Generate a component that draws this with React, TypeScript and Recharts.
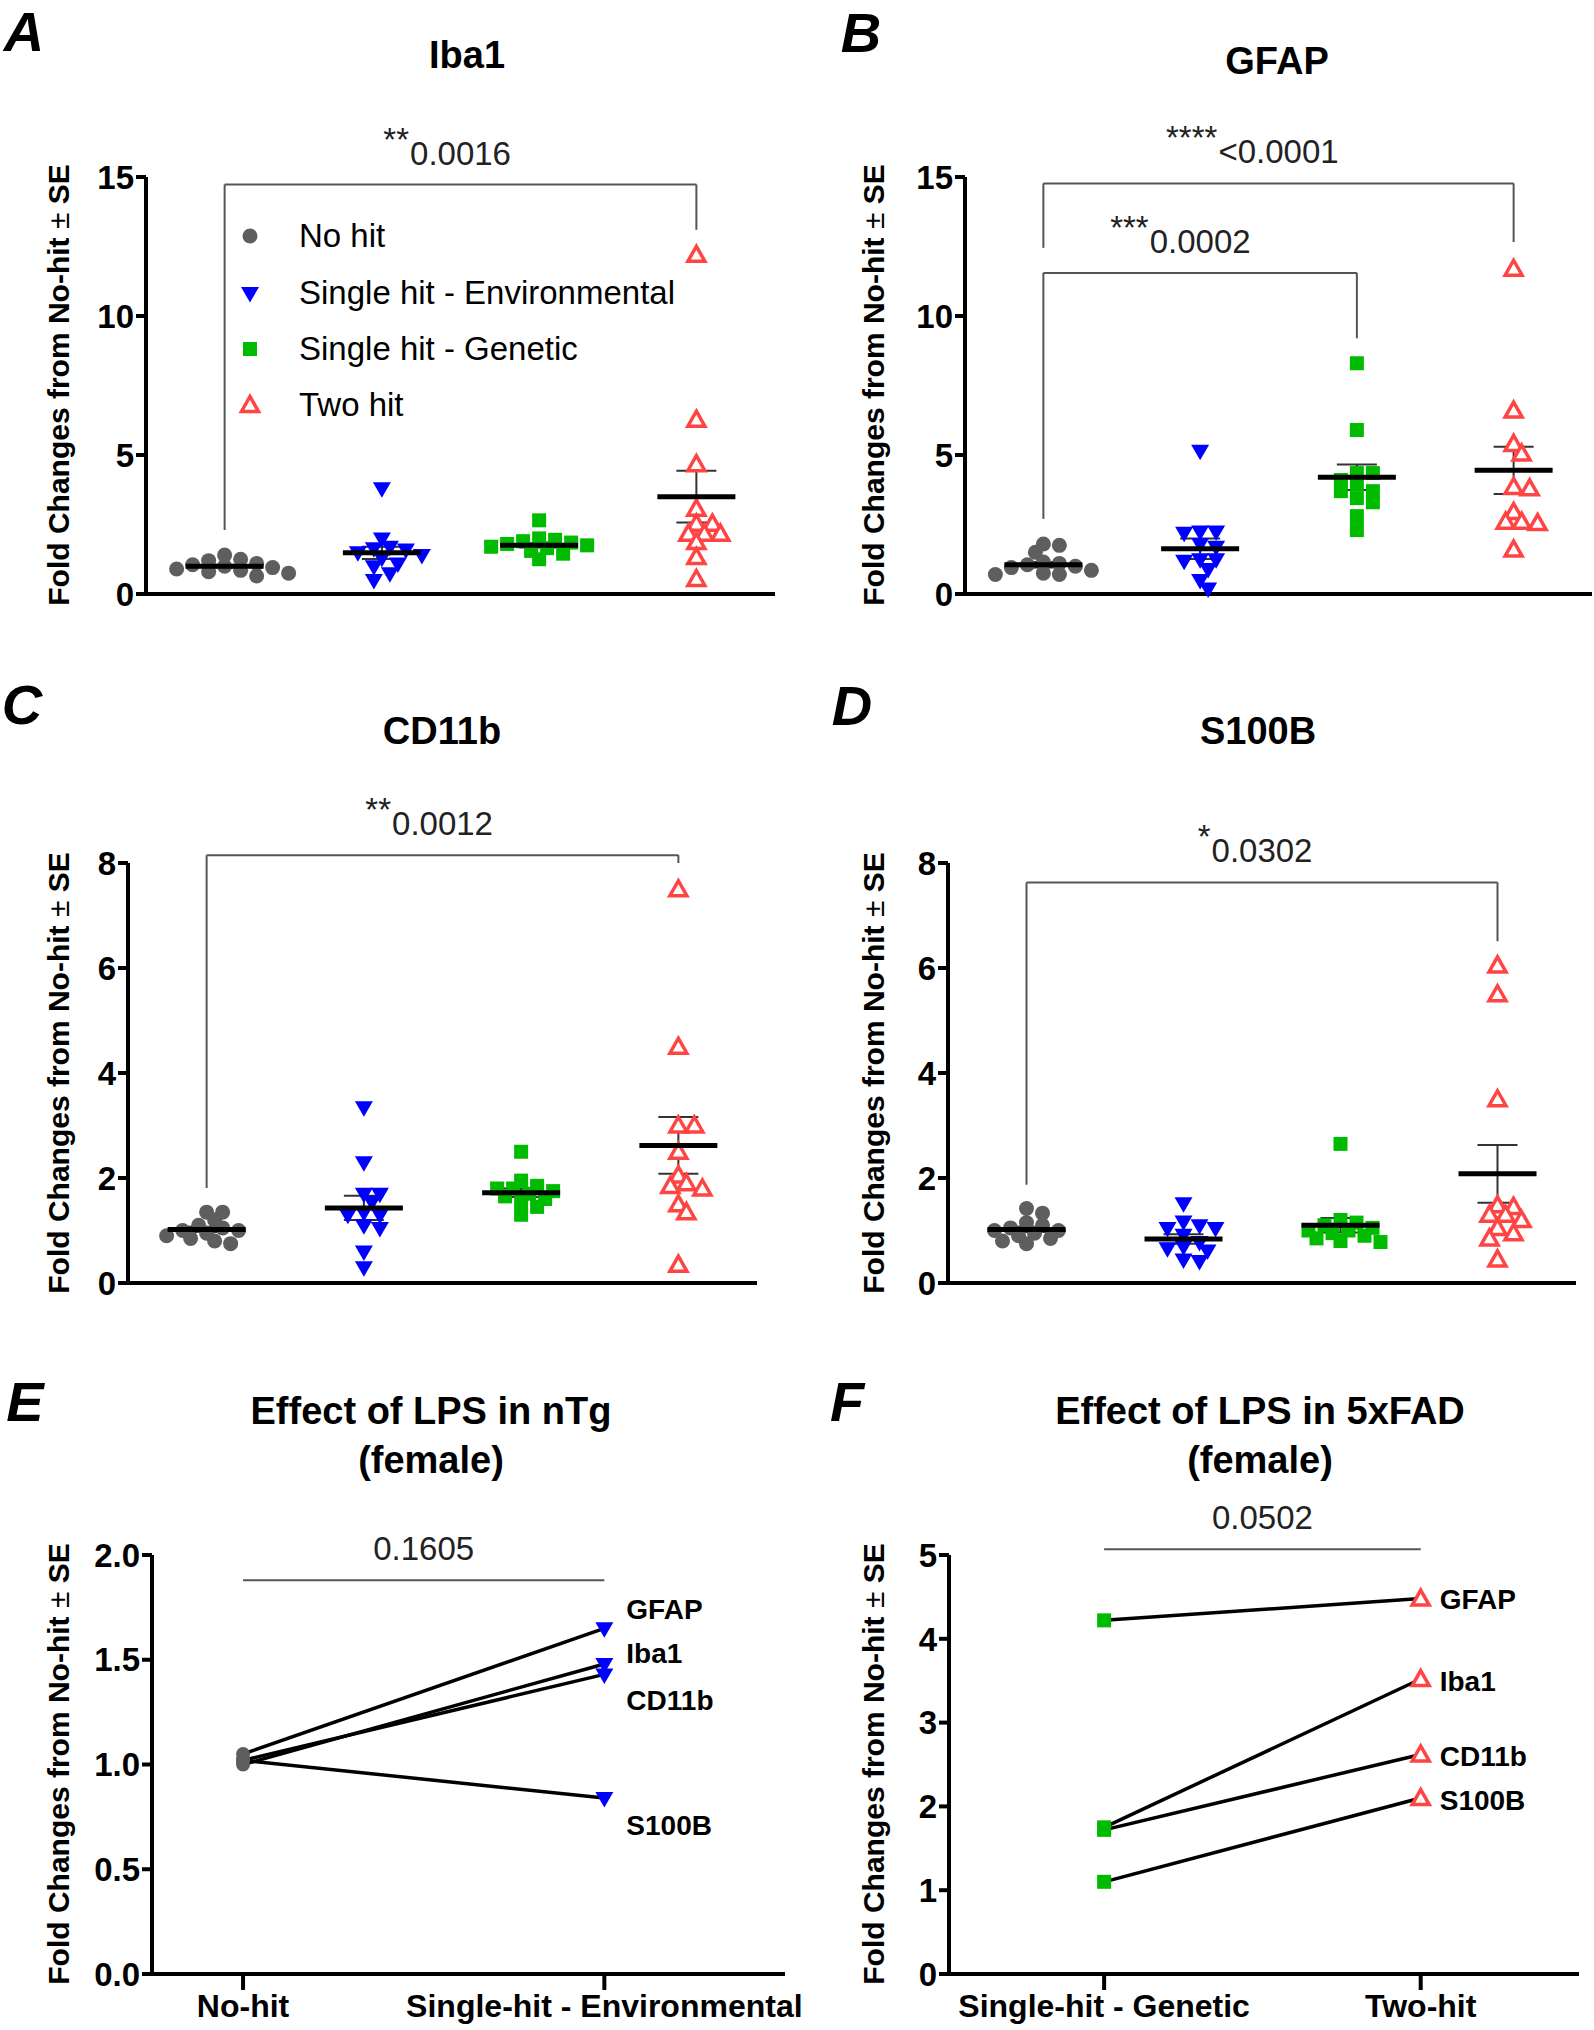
import React from 'react';
import { ScatterChart, Scatter, XAxis, YAxis, ErrorBar, ReferenceLine, ReferenceDot } from 'recharts';

const FONT = '"Liberation Sans", Arial, Helvetica, sans-serif';

const GROUP_NAMES = ['No hit', 'Single hit - Environmental', 'Single hit - Genetic', 'Two hit'];

// A - Iba1
const iba1NoHit = [1.4, 1.25, 1.2, 1.1, 1.05, 1.0, 0.95, 0.9, 0.85, 0.8, 0.75, 0.65];
const iba1Env = [3.8, 2.0, 1.7, 1.65, 1.6, 1.5, 1.4, 1.3, 1.1, 1.0, 0.75, 0.5];
const iba1Gen = [2.65, 2.0, 1.95, 1.9, 1.85, 1.8, 1.75, 1.7, 1.65, 1.55, 1.45, 1.25];
const iba1Two = [12.2, 6.27, 4.67, 3.07, 2.53, 2.53, 2.17, 2.17, 2.17, 1.87, 1.33, 0.54];
const iba1Mean = [1.0, 1.48, 1.75, 3.5];
const iba1Se = [0.05, 0.22, 0.08, 0.93];

// B - GFAP
const gfapNoHit = [1.8, 1.75, 1.5, 1.15, 1.1, 1.05, 1.0, 0.95, 0.85, 0.75, 0.7, 0.7];
const gfapEnv = [5.15, 2.25, 2.25, 2.2, 1.8, 1.7, 1.25, 1.25, 1.2, 0.9, 0.5, 0.2];
const gfapGen = [8.3, 5.9, 4.35, 4.35, 4.1, 3.95, 3.7, 3.7, 3.45, 3.3, 2.8, 2.3];
const gfapTwo = [11.7, 6.6, 5.4, 5.05, 3.85, 3.8, 2.95, 2.6, 2.6, 2.55, 1.6];
const gfapMean = [1.05, 1.63, 4.2, 4.45];
const gfapSe = [0.1, 0.37, 0.46, 0.85];

// C - CD11b
const cd11bNoHit = [1.35, 1.35, 1.2, 1.1, 1.05, 1.0, 1.0, 0.95, 0.9, 0.85, 0.8, 0.75];
const cd11bEnv = [3.35, 2.3, 1.7, 1.7, 1.55, 1.35, 1.3, 1.3, 1.1, 1.05, 0.6, 0.3];
const cd11bGen = [2.5, 1.95, 1.85, 1.8, 1.8, 1.75, 1.7, 1.65, 1.6, 1.55, 1.45, 1.3];
const cd11bTwo = [7.5, 4.5, 3.0, 3.0, 2.5, 2.05, 1.9, 1.85, 1.8, 1.5, 1.35, 0.35];
const cd11bMean = [1.02, 1.43, 1.72, 2.62];
const cd11bSe = [0.05, 0.23, 0.08, 0.54];

// D - S100B
const s100bNoHit = [1.42, 1.33, 1.15, 1.1, 1.05, 1.0, 1.0, 0.95, 0.9, 0.85, 0.8, 0.75];
const s100bEnv = [1.52, 1.17, 1.1, 1.05, 1.05, 0.92, 0.78, 0.7, 0.66, 0.62, 0.45, 0.42];
const s100bGen = [2.65, 1.2, 1.15, 1.1, 1.05, 1.0, 1.0, 0.95, 0.9, 0.85, 0.8, 0.78];
const s100bTwo = [6.05, 5.5, 3.5, 1.48, 1.45, 1.3, 1.3, 1.2, 1.05, 0.95, 0.85, 0.45];
const s100bMean = [1.02, 0.84, 1.1, 2.08];
const s100bSe = [0.05, 0.09, 0.14, 0.55];

type Bracket = { from: number; to: number; y: number; legFrom?: number; legTo?: number; stars: string; p: string };

const iba1Brackets: Bracket[] = [{ from: 1, to: 4, y: 14.73, legFrom: 2.3, legTo: 13.1, stars: '**', p: '0.0016' }];
const gfapBrackets: Bracket[] = [
  { from: 1, to: 4, y: 14.77, legFrom: 12.45, legTo: 12.66, stars: '****', p: '<0.0001' },
  { from: 1, to: 3, y: 11.55, legFrom: 2.7, legTo: 9.2, stars: '***', p: '0.0002' },
];
const cd11bBrackets: Bracket[] = [{ from: 1, to: 4, y: 8.15, legFrom: 1.81, legTo: 8.0, stars: '**', p: '0.0012' }];
const s100bBrackets: Bracket[] = [{ from: 1, to: 4, y: 7.63, legFrom: 1.87, legTo: 6.51, stars: '*', p: '0.0302' }];

// E / F - paired means
const GENES = ['GFAP', 'Iba1', 'CD11b', 'S100B'];
const eNoHit = [1.05, 1.0, 1.02, 1.02];
const eEnv = [1.65, 1.48, 1.43, 0.84];
const fGenetic = [4.22, 1.75, 1.72, 1.1];
const fTwoHit = [4.48, 3.52, 2.62, 2.1];
const eBracket: Bracket = { from: 1, to: 2, y: 1.88, stars: '', p: '0.1605' };
const fBracket: Bracket = { from: 1, to: 2, y: 5.07, stars: '', p: '0.0502' };

// label nudges (px) so the gene names in E don't collide
const eLabelDy = [-19, -10, 26, 27];
const fLabelDy = [1, 2, 2, 2];

const axisLine = { stroke: '#000', strokeWidth: 4 };
const tickStyle = { fill: '#000', fontSize: 33, fontWeight: 700, fontFamily: FONT };

const Circle = (p: any) => <circle cx={p.cx} cy={p.cy} r={7.5} fill="#5e5e5e" />;
const TriDown = (p: any) => (
  <polygon points={`${p.cx - 9},${p.cy - 6} ${p.cx + 9},${p.cy - 6} ${p.cx},${p.cy + 9.5}`} fill="#0000ff" />
);
const Square = (p: any) => <rect x={p.cx - 7} y={p.cy - 7} width={14} height={14} fill="#00bb00" />;
const TriUp = (p: any) => (
  <polygon
    points={`${p.cx},${p.cy - 8.5} ${p.cx + 8.5},${p.cy + 6.5} ${p.cx - 8.5},${p.cy + 6.5}`}
    fill="#fff"
    stroke="#ff4444"
    strokeWidth={3.5}
  />
);
const MARKERS = [Circle, TriDown, Square, TriUp];

const MeanLine = (p: any) => <line x1={p.cx - 39} x2={p.cx + 39} y1={p.cy} y2={p.cy} stroke="#000" strokeWidth={5} />;

const charW = (s: string) =>
  s.split('').reduce((w, c) => w + (c === '.' ? 0.278 : c === '<' ? 0.584 : 0.556), 0);

function SigText({ cx, cy, stars, p }: { cx: number; cy: number; stars: string; p: string }) {
  const half = (charW(p) * 33) / 2;
  return (
    <g fontFamily={FONT} fill="#222">
      <text x={cx} y={cy - 20} textAnchor="middle" fontSize={33}>{p}</text>
      {stars && <text x={cx - half - 1} y={cy - 34} textAnchor="end" fontSize={33}>{stars}</text>}
    </g>
  );
}

// spread the dots of one group sideways (simple beeswarm, slight overlap allowed like Prism)
function swarm(values: number[], group: number, pxY: number, pxX: number) {
  const step = 8;
  const minDist = 11;
  const placed: { x: number; y: number }[] = [];
  return values.map((v) => {
    const y = v * pxY;
    let off = 0;
    for (let k = 0; k < 60; k++) {
      const cand = (k % 2 === 1 ? 1 : -1) * Math.ceil(k / 2) * step;
      if (placed.every((q) => Math.hypot(q.x - cand, q.y - y) >= minDist)) {
        off = cand;
        break;
      }
    }
    placed.push({ x: off, y });
    return { x: group + off / pxX, y: v };
  });
}

type Cfg = { ox: number; oy: number; left: number; right: number; top: number; bottom: number };

function bracketLines(b: Bracket, key: string) {
  const out = [
    <ReferenceLine
      key={key + 'h'}
      segment={[{ x: b.from, y: b.y }, { x: b.to, y: b.y }]}
      stroke="#555"
      strokeWidth={2}
      ifOverflow="visible"
    />,
    <ReferenceDot
      key={key + 't'}
      x={(b.from + b.to) / 2}
      y={b.y}
      ifOverflow="visible"
      shape={(p: any) => <SigText cx={p.cx} cy={p.cy} stars={b.stars} p={b.p} />}
    />,
  ];
  if (b.legFrom !== undefined)
    out.push(
      <ReferenceLine key={key + 'l'} segment={[{ x: b.from, y: b.y }, { x: b.from, y: b.legFrom }]} stroke="#555" strokeWidth={2} ifOverflow="visible" />,
    );
  if (b.legTo !== undefined)
    out.push(
      <ReferenceLine key={key + 'r'} segment={[{ x: b.to, y: b.y }, { x: b.to, y: b.legTo }]} stroke="#555" strokeWidth={2} ifOverflow="visible" />,
    );
  return out;
}

function DotPanel(props: {
  cfg: Cfg;
  groups: number[][];
  mean: number[];
  se: number[];
  brackets: Bracket[];
  yMax: number;
  yTicks: number[];
}) {
  const { cfg, groups, mean, se, brackets, yMax, yTicks } = props;
  const pxY = (cfg.bottom - cfg.top) / yMax;
  const pxX = (cfg.right - cfg.left) / 4;
  const yw = 70;
  const xh = 4;
  const width = cfg.right - cfg.ox + 2;
  const height = cfg.bottom - cfg.oy + 24;
  const margin = { top: cfg.top - cfg.oy, left: cfg.left - cfg.ox - yw, right: 2, bottom: 24 - xh };
  const meanData = mean.map((m, i) => ({ x: i + 1, y: m, se: se[i] }));
  return (
    <div style={{ position: 'absolute', left: cfg.ox, top: cfg.oy }}>
      <ScatterChart width={width} height={height} margin={margin}>
        <XAxis type="number" dataKey="x" domain={[0.5, 4.5]} tick={false} tickLine={false} axisLine={axisLine} height={xh} />
        <YAxis
          type="number"
          dataKey="y"
          domain={[0, yMax]}
          ticks={yTicks}
          interval={0}
          width={yw}
          axisLine={axisLine}
          tickLine={{ stroke: '#000', strokeWidth: 4 }}
          tickSize={10}
          tick={tickStyle}
        />
        {brackets.flatMap((b, i) => bracketLines(b, 'b' + i))}
        {groups.map((vals, g) => (
          <Scatter key={g} data={swarm(vals, g + 1, pxY, pxX)} shape={MARKERS[g]} isAnimationActive={false} />
        ))}
        <Scatter data={meanData} shape={MeanLine} isAnimationActive={false}>
          <ErrorBar dataKey="se" direction="y" width={20} stroke="#333" strokeWidth={2} />
        </Scatter>
      </ScatterChart>
    </div>
  );
}

function PairPanel(props: {
  cfg: Cfg;
  before: number[];
  after: number[];
  xDomain: [number, number];
  xNames: string[];
  yMax: number;
  yTicks: number[];
  yFmt: (v: number) => string;
  markerA: (p: any) => React.ReactElement;
  markerB: (p: any) => React.ReactElement;
  labelDx: number;
  labelDy: number[];
  sig: Bracket;
  mr: number;
}) {
  const { cfg, before, after, xDomain, xNames, yMax, yTicks, yFmt, markerA, markerB, labelDx, labelDy, sig, mr } = props;
  const yw = 80;
  const xh = 64;
  const width = cfg.right - cfg.ox + mr;
  const height = cfg.bottom - cfg.oy + xh + 4;
  const margin = { top: cfg.top - cfg.oy, left: cfg.left - cfg.ox - yw, right: mr, bottom: 4 };
  return (
    <div style={{ position: 'absolute', left: cfg.ox, top: cfg.oy }}>
      <ScatterChart width={width} height={height} margin={margin}>
        <XAxis
          type="number"
          dataKey="x"
          domain={xDomain}
          ticks={[1, 2]}
          interval={0}
          tickFormatter={(v: number) => xNames[v - 1]}
          axisLine={axisLine}
          tickLine={{ stroke: '#000', strokeWidth: 4 }}
          tickSize={16}
          tickMargin={4}
          tick={{ ...tickStyle, fontSize: 32 }}
          height={xh}
        />
        <YAxis
          type="number"
          dataKey="y"
          domain={[0, yMax]}
          ticks={yTicks}
          interval={0}
          tickFormatter={yFmt}
          width={yw}
          axisLine={axisLine}
          tickLine={{ stroke: '#000', strokeWidth: 4 }}
          tickSize={10}
          tick={tickStyle}
        />
        {bracketLines(sig, 'sig')}
        {GENES.map((gene, i) => (
          <Scatter
            key={gene}
            data={[
              { x: 1, y: before[i] },
              { x: 2, y: after[i] },
            ]}
            line={{ stroke: '#000', strokeWidth: 3.5 }}
            lineType="joint"
            isAnimationActive={false}
            shape={(p: any) =>
              p.payload.x === 1 ? (
                markerA(p)
              ) : (
                <g>
                  {markerB(p)}
                  <text
                    x={p.cx + labelDx}
                    y={p.cy + labelDy[i]}
                    dominantBaseline="central"
                    fontFamily={FONT}
                    fontWeight={700}
                    fontSize={28}
                    fill="#000"
                  >
                    {gene}
                  </text>
                </g>
              )
            }
          />
        ))}
      </ScatterChart>
    </div>
  );
}

const abs = (x: number, y: number, style: React.CSSProperties = {}): React.CSSProperties => ({
  position: 'absolute',
  left: x,
  top: y,
  transform: 'translate(-50%, -50%)',
  whiteSpace: 'nowrap',
  lineHeight: 1.15,
  ...style,
});

const Letter = ({ x, y, t }: { x: number; y: number; t: string }) => (
  <div style={abs(x, y, { fontSize: 56, fontWeight: 700, fontStyle: 'italic', lineHeight: 1 })}>{t}</div>
);
const Title = ({ x, y, t }: { x: number; y: number; t: string }) => (
  <div style={abs(x, y, { fontSize: 38, fontWeight: 700 })}>{t}</div>
);
const YLabel = ({ x, y }: { x: number; y: number }) => (
  <div style={{ ...abs(x, y, { fontSize: 30, fontWeight: 700 }), transform: 'translate(-50%, -50%) rotate(-90deg)' }}>
    Fold Changes from No-hit <span style={{ fontWeight: 400 }}>±</span> SE
  </div>
);

const legendRows = [236, 293, 349, 405];

export default function App() {
  return (
    <div style={{ position: 'absolute', left: 0, top: 0, width: 1594, height: 2030, background: '#fff', fontFamily: FONT, color: '#000', overflow: 'hidden' }}>
      <Letter x={24} y={32} t="A" />
      <Letter x={861} y={33} t="B" />
      <Letter x={22} y={705} t="C" />
      <Letter x={852} y={706} t="D" />
      <Letter x={25} y={1402} t="E" />
      <Letter x={847} y={1402} t="F" />

      <Title x={467} y={56} t="Iba1" />
      <Title x={1277} y={62} t="GFAP" />
      <Title x={442} y={732} t="CD11b" />
      <Title x={1258} y={732} t="S100B" />
      <Title x={431} y={1412} t="Effect of LPS in nTg" />
      <Title x={431} y={1461} t="(female)" />
      <Title x={1260} y={1412} t="Effect of LPS in 5xFAD" />
      <Title x={1260} y={1461} t="(female)" />

      <YLabel x={59} y={385} />
      <YLabel x={874} y={385} />
      <YLabel x={59} y={1073} />
      <YLabel x={874} y={1073} />
      <YLabel x={59} y={1764} />
      <YLabel x={874} y={1764} />

      <DotPanel
        cfg={{ ox: 0, oy: 0, left: 146, right: 775, top: 177, bottom: 594 }}
        groups={[iba1NoHit, iba1Env, iba1Gen, iba1Two]}
        mean={iba1Mean}
        se={iba1Se}
        brackets={iba1Brackets}
        yMax={15}
        yTicks={[0, 5, 10, 15]}
      />
      <DotPanel
        cfg={{ ox: 800, oy: 0, left: 965, right: 1592, top: 177, bottom: 594 }}
        groups={[gfapNoHit, gfapEnv, gfapGen, gfapTwo]}
        mean={gfapMean}
        se={gfapSe}
        brackets={gfapBrackets}
        yMax={15}
        yTicks={[0, 5, 10, 15]}
      />
      <DotPanel
        cfg={{ ox: 0, oy: 680, left: 128, right: 757, top: 863, bottom: 1283 }}
        groups={[cd11bNoHit, cd11bEnv, cd11bGen, cd11bTwo]}
        mean={cd11bMean}
        se={cd11bSe}
        brackets={cd11bBrackets}
        yMax={8}
        yTicks={[0, 2, 4, 6, 8]}
      />
      <DotPanel
        cfg={{ ox: 800, oy: 680, left: 948, right: 1576, top: 863, bottom: 1283 }}
        groups={[s100bNoHit, s100bEnv, s100bGen, s100bTwo]}
        mean={s100bMean}
        se={s100bSe}
        brackets={s100bBrackets}
        yMax={8}
        yTicks={[0, 2, 4, 6, 8]}
      />

      {/* legend of panel A */}
      {GROUP_NAMES.map((name, i) => {
        const M = MARKERS[i];
        return (
          <React.Fragment key={name}>
            <svg width={24} height={24} style={{ position: 'absolute', left: 238, top: legendRows[i] - 12 }}>
              <M cx={12} cy={12} />
            </svg>
            <div style={{ position: 'absolute', left: 299, top: legendRows[i], transform: 'translateY(-50%)', fontSize: 33, whiteSpace: 'nowrap', lineHeight: 1.15 }}>
              {name}
            </div>
          </React.Fragment>
        );
      })}

      <PairPanel
        cfg={{ ox: 0, oy: 1370, left: 152, right: 785, top: 1555, bottom: 1974 }}
        before={eNoHit}
        after={eEnv}
        xDomain={[0.748, 2.5]}
        xNames={['No-hit', 'Single-hit - Environmental']}
        yMax={2}
        yTicks={[0, 0.5, 1, 1.5, 2]}
        yFmt={(v) => v.toFixed(1)}
        markerA={(p) => <circle cx={p.cx} cy={p.cy} r={7} fill="#5e5e5e" />}
        markerB={TriDown}
        labelDx={22}
        labelDy={eLabelDy}
        sig={eBracket}
        mr={30}
      />
      <PairPanel
        cfg={{ ox: 800, oy: 1370, left: 949, right: 1579, top: 1555, bottom: 1974 }}
        before={fGenetic}
        after={fTwoHit}
        xDomain={[0.51, 2.5]}
        xNames={['Single-hit - Genetic', 'Two-hit']}
        yMax={5}
        yTicks={[0, 1, 2, 3, 4, 5]}
        yFmt={(v) => String(v)}
        markerA={Square}
        markerB={TriUp}
        labelDx={19}
        labelDy={fLabelDy}
        sig={fBracket}
        mr={15}
      />
    </div>
  );
}
